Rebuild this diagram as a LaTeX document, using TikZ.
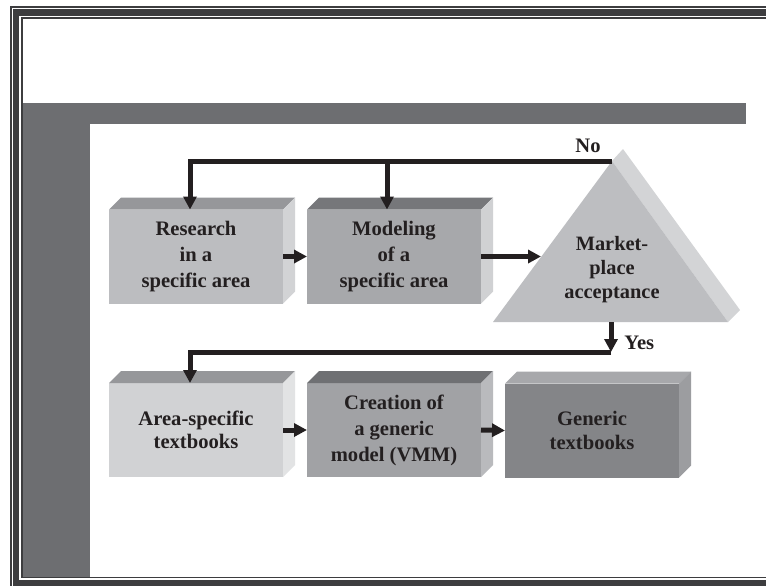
\documentclass[tikz,border=0pt]{standalone}
\usepackage{fontspec}
\setmainfont{Liberation Serif}
\usepackage{xcolor}
\usetikzlibrary{arrows.meta}

\definecolor{frameDark}{HTML}{3D3D3F}
\definecolor{bandGray}{HTML}{6D6E71}
\definecolor{inkDark}{HTML}{231F20}
\definecolor{resFront}{HTML}{BCBDC0}
\definecolor{resTop}{HTML}{96979A}
\definecolor{resSide}{HTML}{D2D3D5}
\definecolor{modFront}{HTML}{A7A8AB}
\definecolor{modTop}{HTML}{76777A}
\definecolor{modSide}{HTML}{D0D1D3}
\definecolor{areaFront}{HTML}{D1D2D4}
\definecolor{areaTop}{HTML}{96979A}
\definecolor{areaSide}{HTML}{E2E3E4}
\definecolor{creFront}{HTML}{A1A2A5}
\definecolor{creTop}{HTML}{6F7073}
\definecolor{creSide}{HTML}{B9BABD}
\definecolor{genFront}{HTML}{848588}
\definecolor{genTop}{HTML}{A7A8AB}
\definecolor{genSide}{HTML}{9C9DA0}
\definecolor{triFront}{HTML}{BDBEC1}
\definecolor{triBack}{HTML}{D3D4D6}

\begin{document}
\begin{tikzpicture}[
  x=.5pt,y=-.5pt,>={Triangle[length=6.5pt,width=6.5pt]},
  block/.style={rectangle,inner sep=0pt,outer sep=0pt,minimum width=87pt,
    minimum height=47pt,align=center,text=inkDark,
    font=\fontsize{10.3}{13}\selectfont\bfseries},
  pairblock/.style={block,font=\fontsize{10.3}{11.6}\selectfont\bfseries},
  marktext/.style={align=center,text=inkDark,inner sep=0pt,
    font=\fontsize{10.2}{12}\selectfont\bfseries},
  answer/.style={text=inkDark,inner sep=0pt,
    font=\fontsize{10.3}{12}\selectfont\bfseries},
  flow/.style={->,draw=inkDark,line width=2.5pt}
]
\useasboundingbox (0,0) rectangle (766,586);

\fill[frameDark] (10,6) rectangle (766,586);
\fill[white] (12,8) rectangle (766,586);
\fill[frameDark] (13,9) rectangle (766,586);
\fill[white] (19,16) rectangle (766,580);
\fill[frameDark] (20.7,17) rectangle (766,578.3);
\fill[white] (22.7,19) rectangle (766,576.7);
\fill[bandGray] (22.7,103) rectangle (90,576.7);
\fill[bandGray] (22.7,103) rectangle (746,124);

\node[block,fill=resFront] (res) at (196,256.5) {Research\\in a\\specific area};
\node[block,fill=modFront] (mod) at (394,256.5) {Modeling\\of a\\specific area};
\node[pairblock,fill=areaFront] (area) at (196,430) {Area-specific\\textbooks};
\node[block,fill=creFront] (cre) at (394,430) {Creation of\\a generic\\model (VMM)};
\node[pairblock,fill=genFront] (gen) at (592,430.5) {Generic\\textbooks};

\foreach \n/\tc/\sc in {res/resTop/resSide,mod/modTop/modSide,
    area/areaTop/areaSide,cre/creTop/creSide,gen/genTop/genSide}{
  \fill[\tc] (\n.north west) -- ++(12,-12) -- ++(174,0) -- (\n.north east) -- cycle;
  \fill[\sc] (\n.north east) -- ++(12,-12) -- ++(0,94) -- (\n.south east) -- cycle;
}

\coordinate (apex) at (612,161);
\coordinate (lbase) at (493,322);
\coordinate (rbase) at (728,322);
\coordinate (base) at (611,322);
\fill[triBack] (apex) -- ++(11,-12) -- (740,310) -- (rbase) -- cycle;
\fill[triFront] (apex) -- (rbase) -- (lbase) -- cycle;
\node[marktext] (mkt) at (612,270) {Market-\\place\\acceptance};

\coordinate (tin) at (541,0);
\coordinate (resin) at ([xshift=-3pt]res.north);
\coordinate (modin) at ([xshift=-3.5pt]mod.north);
\coordinate (areain) at ([xshift=-3pt]area.north);
\coordinate (ybend) at (611,352);

\draw[flow] (res.east) -- (mod.west);
\draw[flow] (mod.east) -- (mod.east -| tin);
\draw[flow] (apex) -| (resin);
\draw[flow] (modin |- apex) -- (modin);
\draw[flow] (base) -- (ybend);
\draw[flow] (ybend) -| (areain);
\draw[flow] (area.east) -- (cre.west);
\draw[flow] (cre.east) -- (gen.west);

\node[answer] (no) at (588,146) {No};
\node[answer,anchor=west] (yes) at (624,343) {Yes};
\end{tikzpicture}
\end{document}
